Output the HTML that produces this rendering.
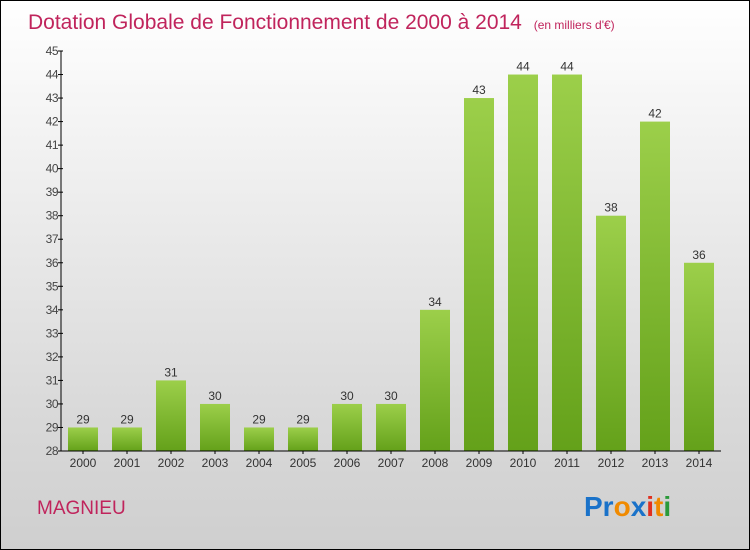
<!DOCTYPE html>
<html><head><meta charset="utf-8"><style>
body{margin:0}
#c{position:relative;width:748px;height:548px;border:1px solid #000;background:linear-gradient(#ffffff 0%,#f0f0f0 30%,#d9d9d9 75%,#cfcfcf 100%);overflow:hidden;font-family:"Liberation Sans",sans-serif}
</style></head><body>
<div id="c">
<svg width="748" height="548" style="position:absolute;left:0;top:0" id="svg">
<defs><linearGradient id="g" x1="0" y1="0" x2="0" y2="1"><stop offset="0" stop-color="#9ccf4a"/><stop offset="1" stop-color="#64a11a"/></linearGradient></defs>
<text x="27" y="28" font-size="21" fill="#c0245c">Dotation Globale de Fonctionnement de 2000 à 2014 <tspan font-size="12" dx="6">(en milliers d'€)</tspan></text>
<text x="36" y="513" font-size="19" fill="#c0245c">MAGNIEU</text>
<text x="583" y="515" font-size="28" font-weight="bold"><tspan fill="#1a72c9">Pr</tspan><tspan fill="#f08a00">o</tspan><tspan fill="#1a72c9">x</tspan><tspan fill="#e03020">i</tspan><tspan fill="#f08a00">t</tspan><tspan fill="#2a9a3a">i</tspan></text>
<g id="plot"></g>
</svg>
</div>
<script>
const years=["2000","2001","2002","2003","2004","2005","2006","2007","2008","2009","2010","2011","2012","2013","2014"];
const values=[29,29,31,30,29,29,30,30,34,43,44,44,38,42,36];
const yTicks=[28,29,30,31,32,33,34,35,36,37,38,39,40,41,42,43,44,45];
const yMin=28,yMax=45,top0=50,bot=450,x0=60;
const y=v=>bot-(v-yMin)/(yMax-yMin)*(bot-top0);
const xc=i=>82+i*44;
const ns="http://www.w3.org/2000/svg",g=document.getElementById('plot');
function mk(t,a,txt){const e=document.createElementNS(ns,t);for(const k in a)e.setAttribute(k,a[k]);if(txt!=null)e.textContent=txt;g.appendChild(e);return e;}
values.forEach((v,i)=>{
 const r=mk('rect',{x:xc(i)-15,y:y(v),width:30,height:bot-y(v),fill:'url(#g)'});
 
 
 const t=mk('text',{x:xc(i),y:y(v)-4,'text-anchor':'middle','font-size':12,fill:'#333'},v);
 
 
 const l=mk('text',{x:xc(i),y:466,'text-anchor':'middle','font-size':12,fill:'#333'},years[i]);
 
 
 mk('line',{x1:xc(i),x2:xc(i),y1:bot,y2:bot+3,stroke:'#000'});
});
yTicks.forEach(v=>{
 mk('line',{x1:x0-3,x2:x0+2,y1:y(v),y2:y(v),stroke:'#000'});
 const t=mk('text',{x:x0-3,y:y(v)+4,'text-anchor':'end','font-size':12,fill:'#444','letter-spacing':'-0.5'},v);
 
 
});
const ya=mk('line',{x1:x0,x2:x0,y1:top0,y2:bot,stroke:'#000'});


const xa=mk('line',{x1:x0,x2:720,y1:bot,y2:bot,stroke:'#000'});


</script>
</body></html>
